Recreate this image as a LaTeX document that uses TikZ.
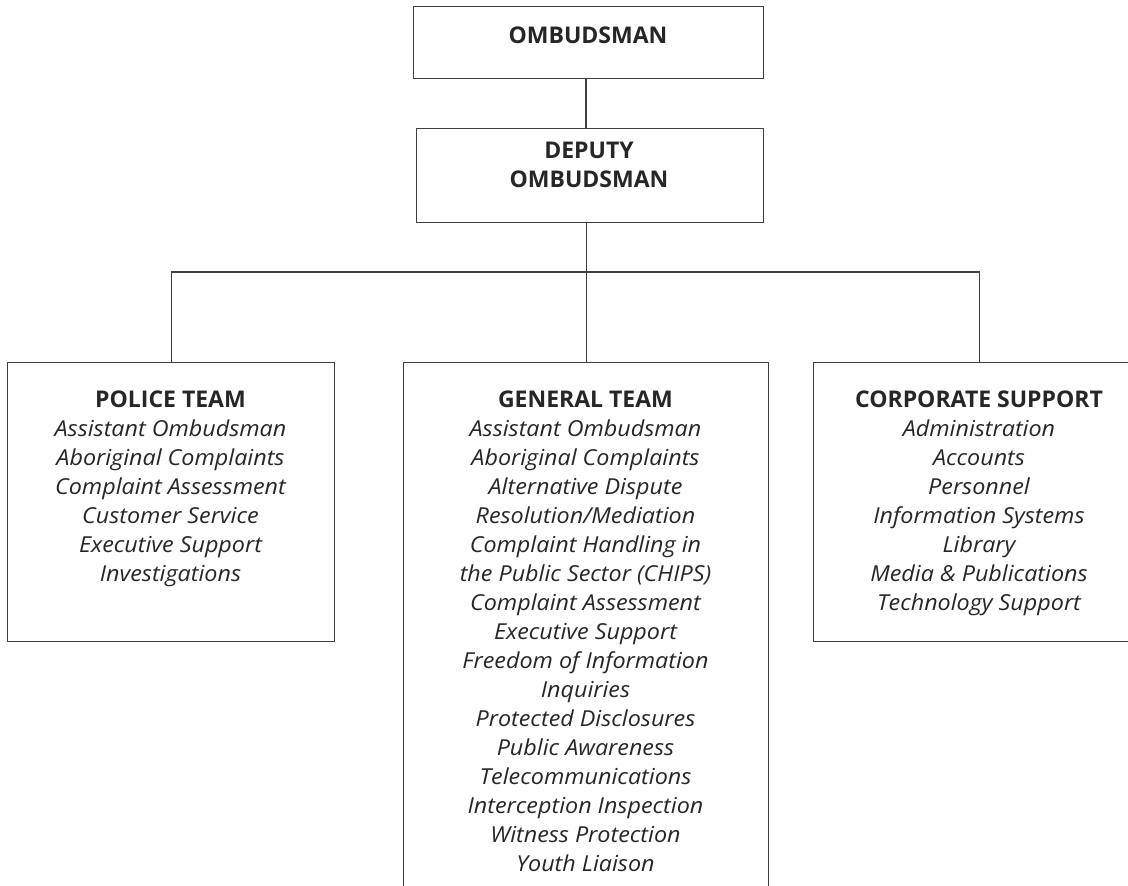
\documentclass[tikz,border=0pt]{standalone}
\usepackage{fontspec}
\setmainfont[ItalicFeatures={FakeStretch=1.06}]{Open Sans}
\newcommand\teamhead[1]{{\upshape\bfseries\fontsize{23}{29}\selectfont #1}}
\begin{document}
\begin{tikzpicture}[x=1pt,y=-1pt,
  box/.style={draw=black!75, line width=1.3pt, anchor=north west, inner sep=0pt},
  conn/.style={draw=black!75, line width=1.3pt},
  toptxt/.style={text=black!85, align=center, inner sep=0pt,
    font=\bfseries\fontsize{23}{29}\selectfont},
  listtxt/.style={text=black!85, align=center, inner sep=0pt, anchor=north,
    font=\itshape\fontsize{22}{29}\selectfont}]
\useasboundingbox (0,0) rectangle (1128,886);
\clip (0,0) rectangle (1128,886);
% boxes
\node[box, minimum width=350pt, minimum height=72pt] (omb) at (413,6) {};
\node[box, minimum width=347pt, minimum height=94pt] (dep) at (416,128) {};
\node[box, minimum width=327pt, minimum height=279pt] (police) at (7,362) {};
\node[box, minimum width=365pt, minimum height=560pt] (general) at (403,362) {};
\node[box, minimum width=332pt, minimum height=279pt] (corp) at (813,362) {};
% texts
\node[toptxt] (ombt) at (588,35) {OMBUDSMAN};
\node[toptxt] (dept) at (589,164.5) {DEPUTY\\OMBUDSMAN};
\node[listtxt] (policet) at (170.5,391) {\teamhead{POLICE TEAM}\\
  Assistant Ombudsman\\ Aboriginal Complaints\\ Complaint Assessment\\
  Customer Service\\ Executive Support\\ Investigations};
\node[listtxt] (generalt) at (585.5,391) {\teamhead{GENERAL TEAM}\\
  Assistant Ombudsman\\ Aboriginal Complaints\\ Alternative Dispute\\
  Resolution/Mediation\\ Complaint Handling in\\ the Public Sector (CHIPS)\\
  Complaint Assessment\\ Executive Support\\ Freedom of Information\\
  Inquiries\\ Protected Disclosures\\ Public Awareness\\
  Telecommunications\\ Interception Inspection\\ Witness Protection\\
  Youth Liaison};
\node[listtxt] (corpt) at (979,391) {\teamhead{CORPORATE SUPPORT}\\
  Administration\\ Accounts\\ Personnel\\ Information Systems\\
  Library\\ Media \& Publications\\ Technology Support};
% connectors
\coordinate (bus) at (585.5,272);
\draw[conn] (omb.south -| 586,0) -- (dep.north -| 586,0);
\draw[conn] (dep.south -| general.north) -- (general.north);
\draw[conn] (police.north) |- (bus) -| (corp.north);
\end{tikzpicture}
\end{document}
